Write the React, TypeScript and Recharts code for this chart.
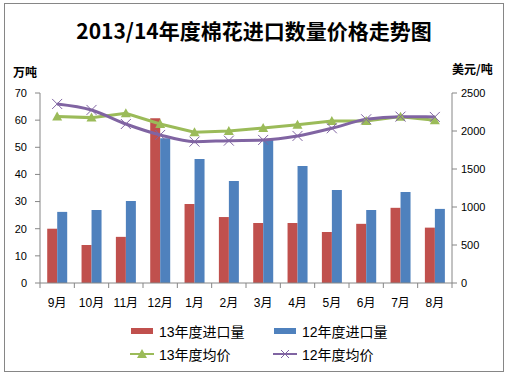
import React from "react";
import { ComposedChart, Bar, Line, XAxis, YAxis } from "recharts";

const months = ["9月", "10月", "11月", "12月", "1月", "2月", "3月", "4月", "5月", "6月", "7月", "8月"];
const import13 = [20, 14, 17, 60.7, 29.1, 24.3, 22.1, 22.1, 18.8, 21.8, 27.7, 20.4];
const import12 = [26.2, 26.9, 30.2, 53.3, 45.7, 37.6, 52.7, 43.1, 34.3, 26.9, 33.5, 27.3];
const price13 = [2190, 2176, 2233, 2092, 1983, 2000, 2040, 2083, 2132, 2132, 2189, 2141];
const price12 = [2356, 2277, 2092, 1948, 1860, 1873, 1882, 1935, 2036, 2154, 2189, 2185];
const leftTicks = [0, 10, 20, 30, 40, 50, 60, 70];
const rightTicks = [0, 500, 1000, 1500, 2000, 2500];

const data = months.map((m, i) => ({
  month: m,
  imp13: import13[i],
  imp12: import12[i],
  p13: price13[i],
  p12: price12[i],
}));

const RED = "#C0504D";
const BLUE = "#4F81BD";
const GREEN = "#9BBB59";
const PURPLE = "#8064A2";
const AXIS = "#868686";
const FONT = "'Liberation Sans', 'Noto Sans CJK SC', sans-serif";
const CJK = "'Noto Sans CJK SC', sans-serif";

const W = 508;
const H = 378;
const PLOT_LEFT = 40;
const PLOT_RIGHT = 452;
const PLOT_TOP = 93;
const PLOT_BOTTOM = 283;
const BAND = (PLOT_RIGHT - PLOT_LEFT) / months.length;

const MonthTick = (props: any) => {
  const { x, y, payload, index } = props;
  return (
    <g>
      <line x1={x - BAND / 2} x2={x - BAND / 2} y1={PLOT_BOTTOM} y2={PLOT_BOTTOM + 5} stroke={AXIS} />
      {index === months.length - 1 && (
        <line x1={x + BAND / 2} x2={x + BAND / 2} y1={PLOT_BOTTOM} y2={PLOT_BOTTOM + 5} stroke={AXIS} />
      )}
      <text x={x} y={y} dy="0.71em" textAnchor="middle" fontSize={12} fill="#000" fontFamily={FONT}>
        {payload.value}
      </text>
    </g>
  );
};

const Triangle = (props: any) => {
  const { cx, cy, index } = props;
  if (cx == null || cy == null) return null;
  return <polygon key={index} points={`${cx},${cy - 5} ${cx - 5},${cy + 4} ${cx + 5},${cy + 4}`} fill={GREEN} />;
};

const Cross = (props: any) => {
  const { cx, cy, index } = props;
  if (cx == null || cy == null) return null;
  return (
    <g key={index} stroke={PURPLE} strokeWidth={1}>
      <line x1={cx - 5} y1={cy - 5} x2={cx + 5} y2={cy + 5} />
      <line x1={cx - 5} y1={cy + 5} x2={cx + 5} y2={cy - 5} />
    </g>
  );
};

const LegendBox = () => {
  const item = (left: number, top: number, icon: React.ReactNode, label: string) => (
    <div style={{ position: "absolute", left, top, display: "flex", alignItems: "center", height: 18 }}>
      <svg width={26} height={12} style={{ marginRight: 3 }}>{icon}</svg>
      <span style={{ fontSize: 14, fontFamily: FONT, color: "#000" }}>{label}</span>
    </div>
  );
  return (
    <div style={{ position: "absolute", left: 0, top: 322, width: W, height: 50 }}>
      {item(130, 0, <rect x={1} y={3} width={22} height={6} fill={RED} />, "13年度进口量")}
      {item(273, 0, <rect x={1} y={3} width={22} height={6} fill={BLUE} />, "12年度进口量")}
      {item(
        130,
        23,
        <g>
          <line x1={0} x2={24} y1={6} y2={6} stroke={GREEN} strokeWidth={2} />
          <polygon points="12,1 7,10 17,10" fill={GREEN} />
        </g>,
        "13年度均价"
      )}
      {item(
        273,
        23,
        <g>
          <line x1={0} x2={24} y1={6} y2={6} stroke={PURPLE} strokeWidth={2} />
          <line x1={8} y1={2} x2={16} y2={10} stroke={PURPLE} />
          <line x1={8} y1={10} x2={16} y2={2} stroke={PURPLE} />
        </g>,
        "12年度均价"
      )}
    </div>
  );
};

export default function App() {
  return (
    <div style={{ position: "absolute", left: 0, top: 0, width: W, height: H, background: "#fff" }}>
      <div
        style={{
          position: "absolute",
          left: 4,
          top: 3,
          width: 498,
          height: 367,
          border: `1px solid ${AXIS}`,
        }}
      />
      <div
        style={{
          position: "absolute",
          left: 0,
          top: 15,
          width: W,
          textAlign: "center",
          fontSize: 21,
          fontWeight: "bold",
          fontFamily: CJK,
          color: "#000",
        }}
      >
        2013/14年度棉花进口数量价格走势图
      </div>
      <div style={{ position: "absolute", left: 13, top: 63, fontSize: 12, fontWeight: "bold", fontFamily: CJK }}>
        万吨
      </div>
      <div style={{ position: "absolute", left: 452, top: 60, fontSize: 12, fontWeight: "bold", fontFamily: CJK }}>
        美元/吨
      </div>
      <div style={{ position: "absolute", left: 0, top: 0 }}>
        <ComposedChart
          width={W}
          height={H}
          data={data}
          margin={{ top: PLOT_TOP, right: W - PLOT_RIGHT - 46, bottom: 0, left: PLOT_LEFT - 30 }}
          barGap={0}
          barCategoryGap="21%"
        >
          <XAxis
            dataKey="month"
            height={H - PLOT_BOTTOM}
            tickLine={false}
            tickMargin={9}
            axisLine={{ stroke: AXIS }}
            tick={<MonthTick />}
            interval={0}
          />
          <YAxis
            yAxisId="left"
            orientation="left"
            width={30}
            domain={[0, 70]}
            ticks={leftTicks}
            tickSize={5}
            tickMargin={8}
            tick={{ fontSize: 11, fill: "#000", fontFamily: FONT }}
            axisLine={{ stroke: AXIS }}
            tickLine={{ stroke: AXIS }}
          />
          <YAxis
            yAxisId="right"
            orientation="right"
            width={46}
            domain={[0, 2500]}
            ticks={rightTicks}
            tickSize={5}
            tickMargin={4}
            tick={{ fontSize: 11, fill: "#000", fontFamily: FONT, textAnchor: "start" }}
            axisLine={{ stroke: AXIS }}
            tickLine={{ stroke: AXIS }}
          />
          <Bar yAxisId="left" dataKey="imp13" name="13年度进口量" fill={RED} isAnimationActive={false} />
          <Bar yAxisId="left" dataKey="imp12" name="12年度进口量" fill={BLUE} isAnimationActive={false} />
          <Line
            yAxisId="right"
            type="linear"
            dataKey="p13"
            name="13年度均价"
            stroke={GREEN}
            strokeWidth={3}
            dot={<Triangle />}
            isAnimationActive={false}
          />
          <Line
            yAxisId="right"
            type="monotone"
            dataKey="p12"
            name="12年度均价"
            stroke={PURPLE}
            strokeWidth={3}
            dot={<Cross />}
            isAnimationActive={false}
          />
        </ComposedChart>
      </div>
      <LegendBox />
    </div>
  );
}
